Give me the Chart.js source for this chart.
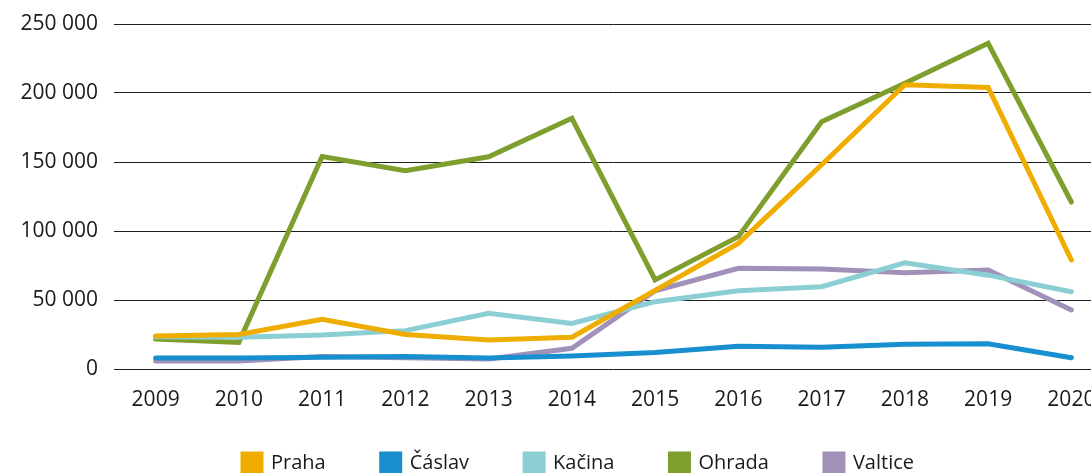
<!DOCTYPE html>
<html>
<head>
<meta charset="utf-8">
<script src="https://cdn.jsdelivr.net/npm/chart.js@4"></script>
<style>
  html, body { margin: 0; padding: 0; background: #fff; overflow: hidden; }
  #wrap { width: 1160px; height: 500px; }
</style>
</head>
<body>
<div id="wrap"><canvas id="lineChart"></canvas></div>
<script>
const years = ['2009', '2010', '2011', '2012', '2013', '2014', '2015', '2016', '2017', '2018', '2019', '2020'];

const praha   = [24000, 25000, 36000, 25000, 21000, 23000, 57000, 91000, 148000, 206000, 204000, 79000];
const caslav  = [8000, 8000, 8500, 9000, 8000, 9500, 12000, 16500, 15700, 17900, 18300, 8200];
const kacina  = [23400, 23000, 24600, 27800, 40300, 33000, 48800, 56700, 59600, 77000, 68000, 56000];
const ohrada  = [21700, 19300, 154000, 143700, 153800, 181700, 64500, 95900, 179200, 207000, 236000, 121000];
const valtice = [5800, 5800, 9000, 8200, 7200, 15000, 56700, 73000, 72500, 69800, 71700, 42800];

const yTicks = [0, 50000, 100000, 150000, 200000, 250000];

const fontFamily = "'Open Sans', 'Lato', sans-serif";

const makeSet = (label, data, color) => ({
    label: label,
    data: data,
    borderColor: color,
    backgroundColor: color,
    borderWidth: 5,
    pointRadius: 0,
    tension: 0,
    fill: false,
    borderCapStyle: 'round',
    borderJoinStyle: 'miter'
});

// move the legend a little right and up, like in the original
const legendNudge = {
    id: 'legendNudge',
    afterLayout(chart) {
        const l = chart.legend;
        if (!l) return;
        l.left += 22;
        l.right += 22;
        l.top -= 17;
        l.bottom -= 17;
    }
};

const ctx = document.querySelector('#lineChart').getContext('2d');

new Chart(ctx, {
    type: 'line',
    data: {
        labels: years,
        datasets: [
            makeSet('Praha', praha, '#efad00'),
            makeSet('Čáslav', caslav, '#188fcf'),
            makeSet('Kačina', kacina, '#8bcfd4'),
            makeSet('Ohrada', ohrada, '#7e9e2e'),
            makeSet('Valtice', valtice, '#a191b9')
        ]
    },
    options: {
        responsive: true,
        maintainAspectRatio: false,
        animation: false,
        layout: {
            padding: { top: 24, right: 47, left: 0, bottom: 0 }
        },
        scales: {
            x: {
                offset: true,
                grid: { display: false, drawTicks: false },
                border: { display: false },
                ticks: {
                    color: '#1a1a1a',
                    padding: 18,
                    maxRotation: 0,
                    autoSkip: false,
                    font: { family: fontFamily, size: 21 }
                },
                afterFit: s => { s.height = 45; }
            },
            y: {
                min: 0,
                max: 250000,
                afterBuildTicks: s => { s.ticks = yTicks.map(v => ({ value: v })); },
                grid: { color: '#1e1e1e', lineWidth: 1, drawTicks: false },
                border: { display: false },
                ticks: {
                    color: '#1a1a1a',
                    padding: 16,
                    font: { family: fontFamily, size: 21 },
                    callback: v => v.toString().replace(/\B(?=(\d{3})+(?!\d))/g, ' ')
                },
                afterFit: s => {
                    s.width = 114;
                    s.paddingTop = 0;
                    s.paddingBottom = 0;
                }
            }
        },
        plugins: {
            legend: {
                position: 'bottom',
                labels: {
                    boxWidth: 18,
                    boxHeight: 18,
                    padding: 56,
                    color: '#1a1a1a',
                    font: { family: fontFamily, size: 20 }
                }
            },
            tooltip: { enabled: false }
        }
    },
    plugins: [legendNudge]
});
</script>
</body>
</html>
